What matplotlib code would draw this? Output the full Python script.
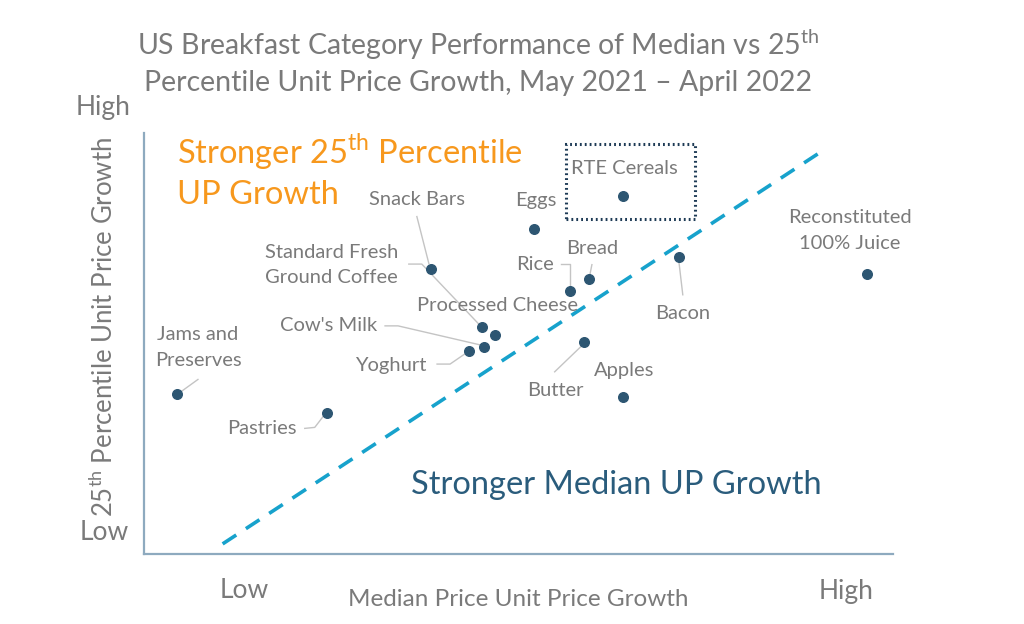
import matplotlib
matplotlib.use("Agg")
import matplotlib.pyplot as plt
from matplotlib.patches import Rectangle
from matplotlib.transforms import ScaledTranslation

plt.rcParams["font.family"] = ["Lato", "DejaVu Sans"]

# relative index values (0 = low, 100 = high)
categories = [
    "Jams and\nPreserves", "Pastries", "Snack Bars", "Standard Fresh\nGround Coffee",
    "Processed Cheese", "Cow's Milk", "Yoghurt", "Eggs", "Rice", "Bread",
    "Butter", "Apples", "RTE Cereals", "Bacon", "Reconstituted\n100% Juice",
]
median_growth = [4.4, 24.4, 38.3, 45.1, 46.9, 45.4, 43.4, 52.1, 56.9, 59.4,
                 58.7, 64.0, 64.0, 71.4, 96.5]
p25_growth = [37.9, 33.4, 67.8, 53.9, 52.0, 49.2, 48.2, 77.3, 62.5, 65.4,
              50.4, 37.2, 85.0, 70.6, 66.6]

# parity reference line
diag_x = [10.5, 90.7]
diag_y = [2.4, 95.9]

GRAY = "#7a7a7a"
DOT = "#2d5672"
DPI = 100

# label offsets in pixels (dx, dy with y downwards) and leader polylines
label_pos = {
    "Jams and\nPreserves": ((21, -47), [(21, -15), (3, -2)]),
    "Pastries": ((-65, 15), [(-22, 15), (-12, 14), (-2, 1)]),
    "Snack Bars": ((-14, -69), [(-14, -52), (-2, -5)]),
    "Standard Fresh\nGround Coffee": ((-150, -62), [(-73, -63), (-60, -63), (-3, -3)]),
    "Processed Cheese": ((2, -30), None),
    "Cow's Milk": ((-155, -21), [(-99, -21), (-86, -21), (-4, -2)]),
    "Yoghurt": ((-78, 14), [(-32, 13), (-19, 13), (-3, 2)]),
    "Eggs": ((2, -28), None),
    "Rice": ((-35, -26), [(-9, -27), (0, -27), (0, -4)]),
    "Bread": ((3, -30), [(3, -14), (1, -4)]),
    "Butter": ((-28, 49), [(-29, 30), (-3, 5)]),
    "Apples": ((1, -27), None),
    "RTE Cereals": ((1, -28), None),
    "Bacon": ((4, 57), [(4, 38), (0, 4)]),
    "Reconstituted\n100% Juice": ((-17, -43), None),
}

fig = plt.figure(figsize=(10.24, 6.24), dpi=DPI)
ax = fig.add_axes([144 / 1024, 1 - 554 / 624, 749 / 1024, 421 / 624])
ax.set_xlim(0, 100)
ax.set_ylim(0, 100)
ax.set_xticks([])
ax.set_yticks([])
for side in ("top", "right"):
    ax.spines[side].set_visible(False)
for side in ("left", "bottom"):
    ax.spines[side].set_color("#8eaabf")
    ax.spines[side].set_linewidth(1.6)

ax.plot(diag_x, diag_y, color="#17a2cc", lw=2.6, dashes=(4.5, 3.2), zorder=1)
ax.scatter(median_growth, p25_growth, s=48, color=DOT, zorder=3)

for name, x, y in zip(categories, median_growth, p25_growth):
    (dx, dy), leader = label_pos[name]
    ax.annotate(name, xy=(x, y), xytext=(dx, -dy), textcoords="offset pixels",
                ha="center", va="center", fontsize=14.5, color=GRAY, linespacing=1.6,
                zorder=4)
    tr = fig.dpi_scale_trans + ScaledTranslation(x, y, ax.transData)
    if leader:
        ax.plot([p[0] / DPI for p in leader], [-p[1] / DPI for p in leader],
                transform=tr, color="#c4c4c4", lw=1.0, zorder=2, clip_on=False)
    if name == "RTE Cereals":
        box = Rectangle((-57 / DPI, -23 / DPI), 129 / DPI, 75 / DPI, transform=tr,
                        fill=False, ec="#1d3a55", lw=2.2, ls=(0, (0.6, 1.0)), zorder=2)
        ax.add_patch(box)

# quadrant captions (two separate lines so the boxes stay tight)
fig.text(177 / 1024, 1 - 164 / 624, "Stronger 25$^{\\mathregular{th}}$ Percentile",
         ha="left", va="baseline", fontsize=23.5, color="#f7981d")
fig.text(177 / 1024, 1 - 204 / 624, "UP Growth",
         ha="left", va="baseline", fontsize=23.5, color="#f7981d")
ax.text(0.905, 0.165, "Stronger Median UP Growth", transform=ax.transAxes,
        ha="right", va="center", fontsize=23.5, color="#2a5c7c")

fig.text(478 / 1024, 1 - 62 / 624,
         "US Breakfast Category Performance of Median vs 25$^{\\mathregular{th}}$\n"
         "Percentile Unit Price Growth, May 2021 \u2013 April 2022",
         ha="center", va="center", fontsize=20.5, color=GRAY, linespacing=1.38)

fig.text(103 / 1024, 1 - 107 / 624, "High", ha="center", va="center", fontsize=19, color=GRAY)
fig.text(104 / 1024, 1 - 533 / 624, "Low", ha="center", va="center", fontsize=19, color=GRAY)
fig.text(244 / 1024, 1 - 590 / 624, "Low", ha="center", va="center", fontsize=19, color=GRAY)
fig.text(846 / 1024, 1 - 592 / 624, "High", ha="center", va="center", fontsize=19, color=GRAY)
fig.text(518 / 1024, 1 - 599 / 624, "Median Price Unit Price Growth", ha="center",
         va="center", fontsize=17.5, color=GRAY)
fig.text(104 / 1024, 1 - 327 / 624, "25$^{\\mathregular{th}}$ Percentile Unit Price Growth",
         ha="center", va="center", rotation=90, fontsize=18.5, color=GRAY)

fig.savefig("out.png", dpi=DPI)
